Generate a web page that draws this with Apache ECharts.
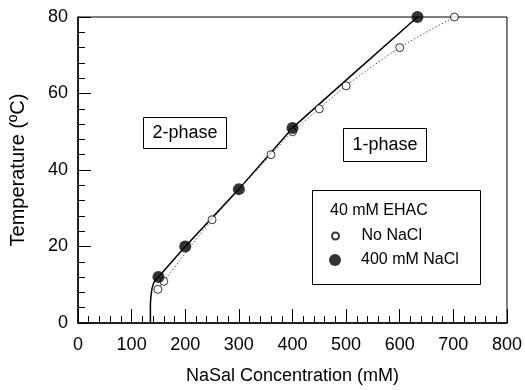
<!DOCTYPE html>
<html>
<head>
<meta charset="utf-8">
<script src="https://cdn.jsdelivr.net/npm/echarts@6/dist/echarts.min.js"></script>
<style>
html,body{margin:0;padding:0;background:#fff;}
#chart{width:525px;height:390px;}
</style>
</head>
<body>
<div id="chart"></div>
<script>
// ---- data ----
var xTicks = [0, 100, 200, 300, 400, 500, 600, 700, 800];
var yTicks = [0, 20, 40, 60, 80];

// open circles: 40 mM EHAC, no NaCl
var noNaClX = [149, 160, 250, 360, 400, 450, 500, 600, 702];
var noNaClY = [8.8, 10.9, 27, 44, 50, 56, 62, 72, 80];

// filled circles: 40 mM EHAC, 400 mM NaCl
var withNaClX = [150, 200, 300, 400, 633];
var withNaClY = [12, 20, 35, 51, 80];

// solid phase boundary (400 mM NaCl)
var solidCurveX = [135, 135, 136, 138, 141, 145, 150, 200, 300, 400, 500, 633];
var solidCurveY = [0, 5, 7, 9, 10.5, 11.3, 12, 20, 35, 51, 63.5, 80];

// dotted phase boundary (no NaCl)
var dottedCurveX = [149, 160, 250, 360, 400, 450, 500, 600, 702];
var dottedCurveY = [8.8, 10.9, 27, 44, 50, 56, 62, 72, 80];

var legendTitle = '40 mM EHAC';
var seriesNames = ['No NaCl', '400 mM NaCl'];
var regionLabels = ['2-phase', '1-phase'];

function pairs(xs, ys) { return xs.map(function (x, i) { return [x, ys[i]]; }); }

var FONT = '"Liberation Sans", Arial, Helvetica, sans-serif';
var chart = echarts.init(document.getElementById('chart'), null, {renderer: 'canvas'});

chart.setOption({
  animation: false,
  backgroundColor: '#fff',
  textStyle: {fontFamily: FONT, color: '#000'},
  grid: {left: 77, right: 17, top: 17, bottom: 67, show: true, borderColor: '#000', borderWidth: 1},
  xAxis: {
    type: 'value', min: xTicks[0], max: xTicks[xTicks.length - 1], interval: 100,
    name: 'NaSal Concentration (mM)', nameLocation: 'middle', nameGap: 44,
    nameTextStyle: {fontFamily: FONT, fontSize: 18, color: '#000'},
    axisLine: {lineStyle: {color: '#000', width: 1.5}},
    axisTick: {inside: true, length: 14, lineStyle: {color: '#000', width: 1}},
    minorTick: {show: true, splitNumber: 5, length: 7, lineStyle: {color: '#000', width: 1}},
    axisLabel: {fontFamily: FONT, fontSize: 18, color: '#000', margin: 13},
    splitLine: {show: false}
  },
  yAxis: {
    type: 'value', min: yTicks[0], max: yTicks[yTicks.length - 1], interval: 20,
    name: 'Temperature (ºC)', nameLocation: 'middle', nameGap: 50, nameRotate: 90,
    nameTextStyle: {fontFamily: FONT, fontSize: 20, color: '#000'},
    axisLine: {lineStyle: {color: '#000', width: 1.5}},
    axisTick: {inside: true, length: 13, lineStyle: {color: '#000', width: 1}},
    minorTick: {show: true, splitNumber: 5, length: 7, lineStyle: {color: '#000', width: 1}},
    axisLabel: {fontFamily: FONT, fontSize: 18, color: '#000', margin: 10},
    splitLine: {show: false}
  },
  legend: [
    {
      data: [{name: seriesNames[0], icon: 'circle'}],
      left: 331, top: 228, padding: 0, itemWidth: 42, itemHeight: 7,
      textStyle: {fontFamily: FONT, fontSize: 16, color: '#000', lineHeight: 16}
    },
    {
      data: [{name: seriesNames[1], icon: 'circle'}],
      left: 329, top: 252, padding: 0, itemWidth: 42, itemHeight: 12,
      textStyle: {fontFamily: FONT, fontSize: 16, color: '#000', lineHeight: 16}
    }
  ],
  graphic: [
    {type: 'rect', z: 1, shape: {x: 143.5, y: 117.5, width: 83, height: 31},
     style: {fill: '#fff', stroke: '#000', lineWidth: 1}},
    {type: 'text', z: 2, x: 185, y: 133,
     style: {text: regionLabels[0], font: '18px ' + FONT, fill: '#000', align: 'center', verticalAlign: 'middle'}},
    {type: 'rect', z: 1, shape: {x: 343.5, y: 128.5, width: 83, height: 33},
     style: {fill: '#fff', stroke: '#000', lineWidth: 1}},
    {type: 'text', z: 2, x: 385, y: 145,
     style: {text: regionLabels[1], font: '18px ' + FONT, fill: '#000', align: 'center', verticalAlign: 'middle'}},
    {type: 'rect', z: 1, shape: {x: 312.5, y: 190.5, width: 168, height: 94},
     style: {fill: '#fff', stroke: '#000', lineWidth: 1}},
    {type: 'text', z: 2, x: 330, y: 211,
     style: {text: legendTitle, font: '16px ' + FONT, fill: '#000', align: 'left', verticalAlign: 'middle'}}
  ],
  series: [
    {
      type: 'line', data: pairs(solidCurveX, solidCurveY), showSymbol: false, symbol: 'none',
      lineStyle: {color: '#000', width: 1.5}, z: 2, silent: true
    },
    {
      type: 'line', data: pairs(dottedCurveX, dottedCurveY), showSymbol: false, symbol: 'none', smooth: 0.3,
      lineStyle: {color: '#555', width: 1, type: [1.5, 2]}, z: 2, silent: true
    },
    {
      name: seriesNames[0], type: 'scatter', data: pairs(noNaClX, noNaClY), symbol: 'circle', symbolSize: 8,
      itemStyle: {color: '#fff', borderColor: '#000', borderWidth: 1}, z: 4
    },
    {
      name: seriesNames[1], type: 'scatter', data: pairs(withNaClX, withNaClY), symbol: 'circle', symbolSize: 12,
      itemStyle: {color: '#000'}, z: 5
    }
  ]
});
</script>
</body>
</html>
